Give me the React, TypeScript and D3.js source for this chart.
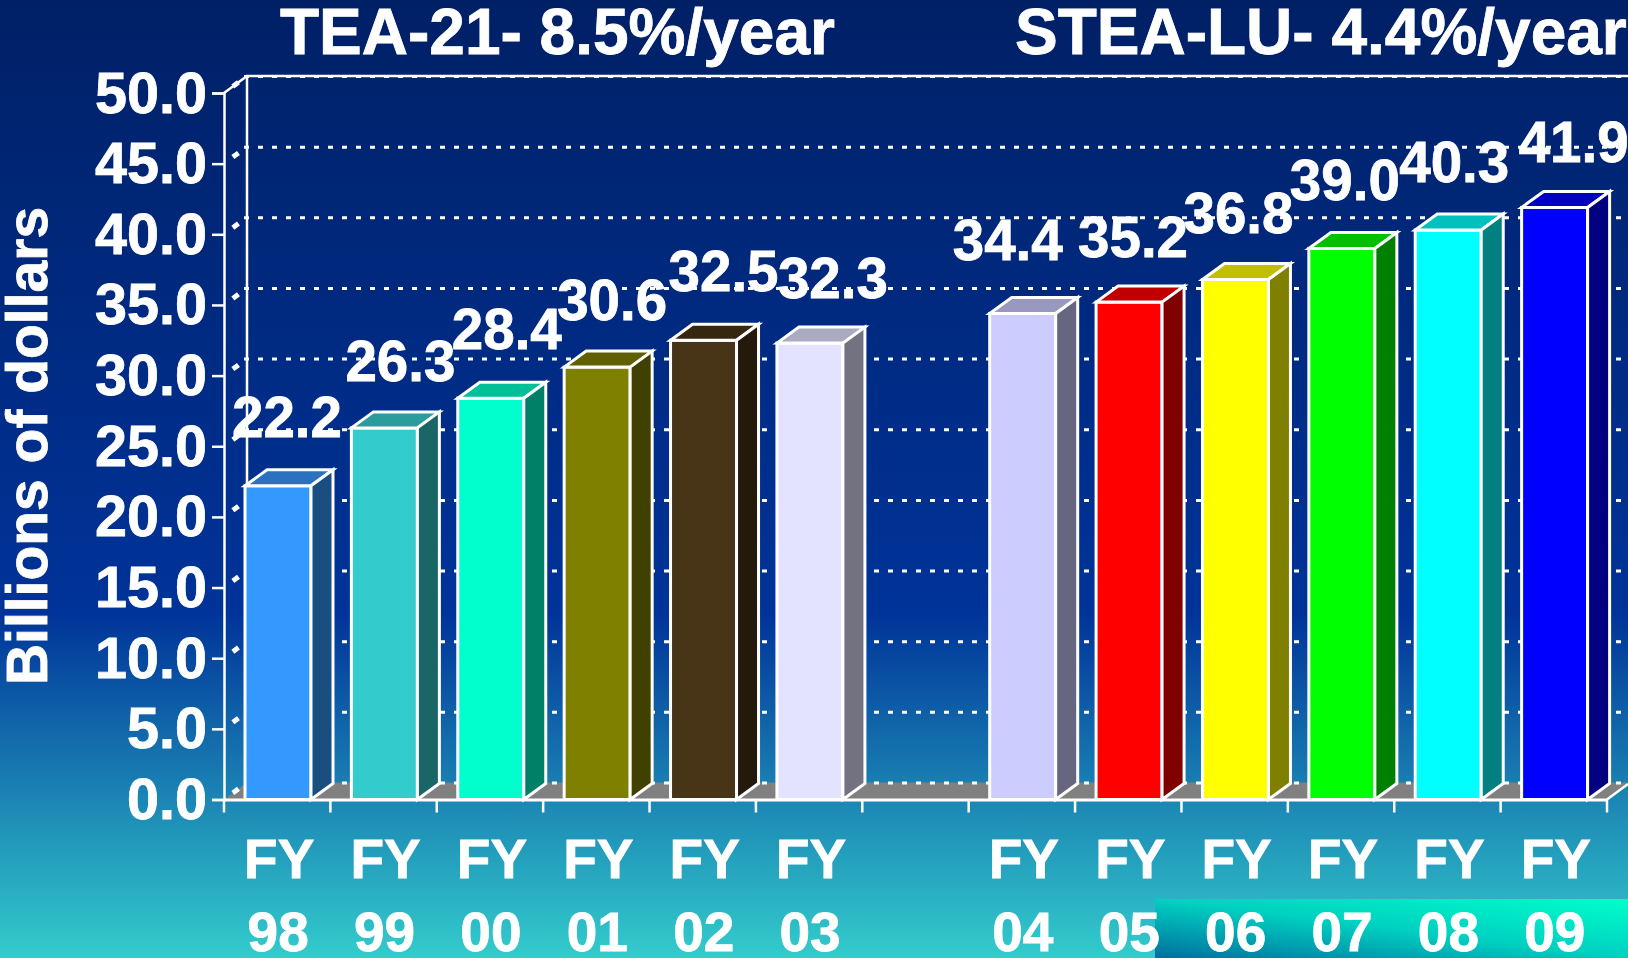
import React, { useRef, useEffect } from "react";
import { select, scaleBand, scaleLinear, axisLeft, axisBottom, range } from "d3";

const years = ["98", "99", "00", "01", "02", "03", "gap", "04", "05", "06", "07", "08", "09"];
const funding = [22.2, 26.3, 28.4, 30.6, 32.5, 32.3, null, 34.4, 35.2, 36.8, 39.0, 40.3, 41.9];
const front = ["#3399ff", "#33cccc", "#00ffcc", "#808000", "#483416", "#e3e3ff", null, "#ccccff", "#ff0000", "#ffff00", "#00ff00", "#00ffff", "#0000ff"];
const top = ["#2a72c0", "#2a9c9c", "#00bf99", "#606000", "#362710", "#aaaac0", null, "#9999c0", "#c00000", "#c0c000", "#00c000", "#00c0c0", "#0000c0"];
const side = ["#1a4d80", "#1a6666", "#008066", "#404000", "#241a0b", "#727280", null, "#666680", "#800000", "#808000", "#008000", "#008080", "#000080"];
const yTicks = [0, 5, 10, 15, 20, 25, 30, 35, 40, 45, 50];
// labels were hand placed on the slide, so they don't sit centred over the bars
const labelDx = [9, 16, 16, 15, 20, 23, 0, -15, 4, 3, 3, 6, 19];
const labelDy = [47, 45, 47, 45, 47, 43, 0, 51, 43, 45, 47, 46, 44];

const W = 1628;
const H = 958;
const DX = 23; // depth of the 3d box
const DY = 17;
const FONT = "'Liberation Sans', Arial, sans-serif";

function App() {
  const svgRef = useRef<SVGSVGElement>(null);

  useEffect(() => {
    const svg = select(svgRef.current);
    svg.selectAll("*").remove();

    const x = scaleBand<string>().domain(years).range([224, 1607]);
    const y = scaleLinear().domain([0, 50]).range([799.5, 93]);

    const defs = svg.append("defs");
    const bg = defs.append("linearGradient").attr("id", "bg").attr("x1", 0).attr("y1", 0).attr("x2", 0).attr("y2", 1);
    bg.append("stop").attr("offset", 0).attr("stop-color", "#002066");
    bg.append("stop").attr("offset", 0.64).attr("stop-color", "#003399");
    bg.append("stop").attr("offset", 1).attr("stop-color", "#33cccc");
    const corner = defs.append("linearGradient").attr("id", "corner").attr("x1", 0).attr("y1", 1).attr("x2", 1).attr("y2", 0);
    corner.append("stop").attr("offset", 0).attr("stop-color", "#006f9f");
    corner.append("stop").attr("offset", 0.5).attr("stop-color", "#00d0c0");
    corner.append("stop").attr("offset", 1).attr("stop-color", "#00ffcc");

    svg.append("rect").attr("width", W).attr("height", H).attr("fill", "url(#bg)");
    svg.append("rect").attr("x", 1155).attr("y", 899).attr("width", W - 1155).attr("height", H - 899).attr("fill", "url(#corner)");

    // floor
    const y0 = y(0);
    const xEnd = x.range()[1];
    svg.append("path")
      .attr("d", `M${x.range()[0]},${y0}L${x.range()[0] + DX},${y0 - DY}L${W},${y0 - DY}L${xEnd},${y0}Z`)
      .attr("fill", "#808080");

    // grid on the back wall, with the little dashes running round the corner
    const grid = svg.append("g");
    grid.selectAll("line.h")
      .data(yTicks)
      .join("line")
      .attr("class", "h")
      .attr("x1", x.range()[0] + DX - 3)
      .attr("x2", W)
      .attr("y1", (d) => y(d) - DY + 0.5)
      .attr("y2", (d) => y(d) - DY + 0.5)
      .attr("stroke", "#fff")
      .attr("stroke-width", 3)
      .attr("stroke-dasharray", "5 9");
    grid.selectAll("line.d")
      .data(yTicks)
      .join("line")
      .attr("class", "d")
      .attr("x1", x.range()[0])
      .attr("x2", x.range()[0] + DX)
      .attr("y1", (d) => y(d))
      .attr("y2", (d) => y(d) - DY)
      .attr("stroke", "#fff")
      .attr("stroke-width", 5)
      .attr("stroke-dasharray", "0 11 7 11");

    const frame = svg.append("g").attr("stroke", "#fff").attr("stroke-width", 2.5).attr("fill", "none");
    frame.append("path").attr("d", `M${x.range()[0] + DX},${y0 - DY}V${y(50) - DY}H${W}`);
    frame.append("path").attr("d", `M${x.range()[0]},${y(50)}L${x.range()[0] + DX},${y(50) - DY}`);
    frame.append("path").attr("d", `M${xEnd},${y0}L${W},${y0 - DY * (W - xEnd) / DX}`);

    // bars
    const bars = svg.append("g")
      .selectAll("g")
      .data(years.map((yr, i) => ({ yr, i, v: funding[i] })).filter((d) => d.v !== null))
      .join("g")
      .attr("stroke", "#fff")
      .attr("stroke-width", 3)
      .attr("stroke-linejoin", "miter");
    const bw = 66;
    const inset = 21;
    const barX = (d) => x(d.yr) + inset;
    const ddx = 22;
    const ddy = 16;
    bars.append("rect")
      .attr("x", barX)
      .attr("y", (d) => y(d.v))
      .attr("width", bw)
      .attr("height", (d) => y0 - y(d.v))
      .attr("fill", (d) => front[d.i]);
    bars.append("path")
      .attr("d", (d) => `M${barX(d)},${y(d.v)}l${ddx},${-ddy}h${bw}l${-ddx},${ddy}Z`)
      .attr("fill", (d) => top[d.i]);
    bars.append("path")
      .attr("d", (d) => `M${barX(d) + bw},${y(d.v)}l${ddx},${-ddy}V${y0 - ddy}l${-ddx},${ddy}Z`)
      .attr("fill", (d) => side[d.i]);

    const text = (sel) =>
      sel
        .attr("fill", "#fff")
        .attr("stroke", "#fff")
        .attr("stroke-width", 0.8)
        .attr("font-family", FONT)
        .attr("font-weight", "bold");

    // axes
    const yAxis = svg.append("g")
      .attr("transform", `translate(${x.range()[0]},0)`)
      .call(axisLeft(y).tickValues(yTicks).tickSize(12).tickPadding(5).tickFormat((d) => Number(d).toFixed(1)));
    yAxis.selectAll("path,line").attr("stroke", "#fff").attr("stroke-width", 2.5);
    yAxis.selectAll("text")
      .call(text)
      .attr("font-size", 57.5)
      .attr("dy", 19);

    const xAxis = svg.append("g")
      .attr("transform", `translate(0,${y0})`)
      .call(axisBottom(x).tickSize(0).tickFormat(() => ""));
    xAxis.select("path").attr("stroke", "#fff").attr("stroke-width", 3);
    xAxis.selectAll(".tick").remove();
    svg.append("g")
      .selectAll("line")
      .data(range(years.length + 1))
      .join("line")
      .attr("x1", (i) => x.range()[0] + i * x.step())
      .attr("x2", (i) => x.range()[0] + i * x.step())
      .attr("y1", y0)
      .attr("y2", y0 + 13)
      .attr("stroke", "#fff")
      .attr("stroke-width", 2.5);

    const cats = years.filter((d) => d !== "gap");
    svg.append("g").selectAll("text").data(cats).join("text").call(text)
      .attr("x", (d) => x(d) + x.bandwidth() / 2 + 2)
      .attr("y", 878)
      .attr("text-anchor", "middle")
      .attr("font-size", 55)
      .text("FY");
    svg.append("g").selectAll("text").data(cats).join("text").call(text)
      .attr("x", (d) => x(d) + x.bandwidth() / 2 + 1)
      .attr("y", 951)
      .attr("text-anchor", "middle")
      .attr("font-size", 55)
      .text((d) => d);

    // value labels
    svg.append("g")
      .selectAll("text")
      .data(years.map((yr, i) => ({ yr, i, v: funding[i] })).filter((d) => d.v !== null))
      .join("text")
      .call(text)
      .attr("x", (d) => barX(d) + bw / 2 + labelDx[d.i])
      .attr("y", (d) => y(d.v) - labelDy[d.i] * 1.0383)
      .attr("text-anchor", "middle")
      .attr("font-size", 56.5)
      .text((d) => d.v.toFixed(1));

    svg.append("text").call(text).attr("x", 280).attr("y", 54).attr("font-size", 64).text("TEA-21- 8.5%/year");
    svg.append("text").call(text).attr("x", 1015).attr("y", 54).attr("font-size", 64).text("STEA-LU- 4.4%/year");
    svg.append("text").call(text)
      .attr("transform", "translate(47,446) rotate(-90)")
      .attr("text-anchor", "middle")
      .attr("font-size", 57)
      .text("Billions of dollars");
  }, []);

  return <svg ref={svgRef} width={W} height={H} style={{ position: "absolute", left: 0, top: 0 }} />;
}

export default App;
